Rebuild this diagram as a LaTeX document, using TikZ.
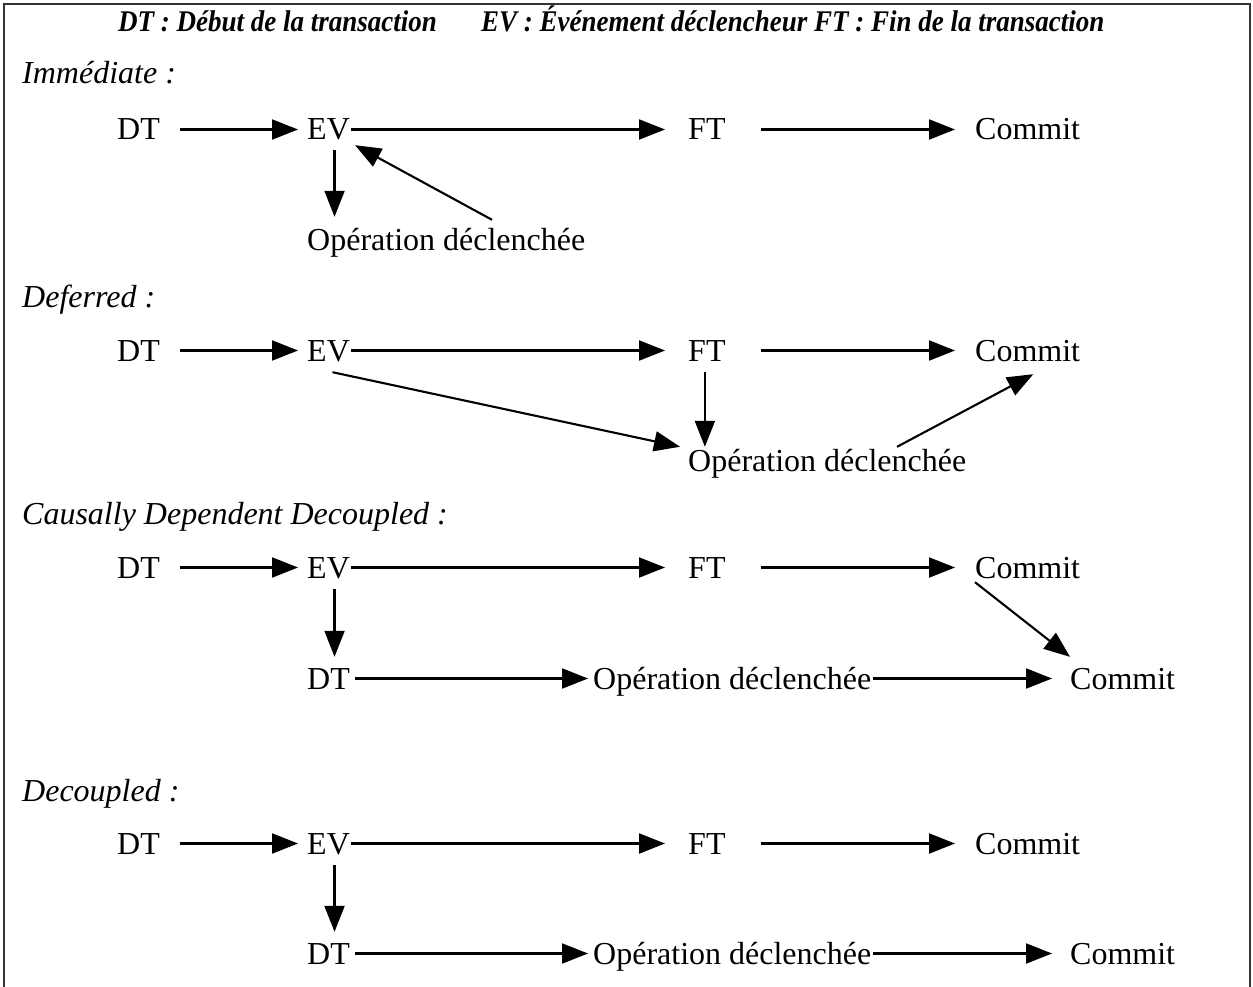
\documentclass[tikz,border=0pt]{standalone}
\usepackage{fontspec}
\setmainfont{Liberation Serif}
\newfontfamily\legendfont[FakeStretch=0.9]{Liberation Serif}
\usetikzlibrary{arrows.meta,calc}

\tikzset{
  word/.style={font=\fontsize{32}{38}\selectfont, inner sep=0pt, anchor=base west,
               text height=21pt, text depth=0pt},
  section/.style={font=\fontsize{32}{38}\selectfont\itshape, inner sep=0pt, anchor=base west},
  legend/.style={font=\legendfont\fontsize{30}{34}\selectfont\bfseries\itshape, inner sep=0pt, anchor=base west},
  arr/.style={line width=2.1pt, -{Triangle[length=26pt,width=20pt]}},
  gapA/.style={shorten <=20pt, shorten >=9pt},
  gapB/.style={shorten <=1pt, shorten >=23pt},
  gapC/.style={shorten <=35pt, shorten >=20pt},
}

\begin{document}
\begin{tikzpicture}[x=1pt,y=-1pt]
\useasboundingbox (0,0) rectangle (1253,987);
\begin{scope}
  \clip (0,0) rectangle (1253,987);
  \draw[line width=1.4pt, black!80] (4,4) rectangle (1250,1000);
\end{scope}

% legend line
\node[legend] (lgdt) at (118,32) {DT : Début de la transaction};
\node[legend] (lgev) at (481,32) {EV : Événement déclencheur};
\node[legend] (lgft) at (814,32) {FT : Fin de la transaction};

% ---------- Immédiate ----------
\node[section] (s1) at (22,84) {Immédiate :};
\node[word] (dt1) at (117,140) {DT};
\node[word] (ev1) at (307,140) {EV};
\node[word] (ft1) at (688,140) {FT};
\node[word] (cm1) at (975,140) {Commit};
\node[word] (op1) at (307,251) {Opération déclenchée};
\draw[arr,gapA] (dt1) -- (ev1);
\draw[arr,gapB] (ev1) -- (ft1);
\draw[arr,gapC] (ft1) -- (cm1);
\draw[arr] ([xshift=6pt,yshift=-10pt]ev1.south) -- ([xshift=6pt,yshift=13pt]ev1.south |- op1.north);
\draw[arr] ($(op1.north west)+(185,-10)$) -- ($(ev1.south east)+(5,5)$);

% ---------- Deferred ----------
\node[section] (s2) at (22,307) {Deferred :};
\node[word] (dt2) at (117,361) {DT};
\node[word] (ev2) at (307,361) {EV};
\node[word] (ft2) at (688,361) {FT};
\node[word] (cm2) at (975,361) {Commit};
\node[word] (op2) at (688,471) {Opération déclenchée};
\draw[arr,gapA] (dt2) -- (ev2);
\draw[arr,gapB] (ev2) -- (ft2);
\draw[arr,gapC] (ft2) -- (cm2);
\draw[arr] ($(ev2.south)+(4,11)$) -- ($(op2.north west)+(-8,-3)$);
\draw[arr] ([xshift=-2pt,yshift=-11pt]ft2.south) -- ([xshift=-2pt,yshift=3pt]ft2.south |- op2.north);
\draw[arr] ($(op2.north west)+(209,-3)$) -- ($(cm2.south east)+(-47,13)$);

% ---------- Causally Dependent Decoupled ----------
\node[section] (s3) at (22,524) {Causally Dependent Decoupled :};
\node[word] (dt3) at (117,578) {DT};
\node[word] (ev3) at (307,578) {EV};
\node[word] (ft3) at (688,578) {FT};
\node[word] (cm3) at (975,578) {Commit};
\node[word] (dt4) at (307,689) {DT};
\node[word] (op4) at (593,689) {Opération déclenchée};
\node[word] (cm4) at (1070,689) {Commit};
\draw[arr,gapA] (dt3) -- (ev3);
\draw[arr,gapB] (ev3) -- (ft3);
\draw[arr,gapC] (ft3) -- (cm3);
\draw[arr] ([xshift=6pt,yshift=-11pt]ev3.south) -- ([xshift=6pt,yshift=11pt]ev3.south |- dt4.north);
\draw[arr,shorten <=5pt,shorten >=5pt] (dt4) -- (op4);
\draw[arr,shorten <=2pt,shorten >=18pt] (op4) -- (cm4);
\draw[arr] ($(cm3.south west)+(0,4)$) -- ($(cm4.north west)+(0,-11)$);

% ---------- Decoupled ----------
\node[section] (s4) at (22,801) {Decoupled :};
\node[word] (dt5) at (117,854) {DT};
\node[word] (ev5) at (307,854) {EV};
\node[word] (ft5) at (688,854) {FT};
\node[word] (cm5) at (975,854) {Commit};
\node[word] (dt6) at (307,964) {DT};
\node[word] (op6) at (593,964) {Opération déclenchée};
\node[word] (cm6) at (1070,964) {Commit};
\draw[arr,gapA] (dt5) -- (ev5);
\draw[arr,gapB] (ev5) -- (ft5);
\draw[arr,gapC] (ft5) -- (cm5);
\draw[arr] ([xshift=6pt,yshift=-11pt]ev5.south) -- ([xshift=6pt,yshift=11pt]ev5.south |- dt6.north);
\draw[arr,shorten <=5pt,shorten >=5pt] (dt6) -- (op6);
\draw[arr,shorten <=2pt,shorten >=18pt] (op6) -- (cm6);
\end{tikzpicture}
\end{document}
